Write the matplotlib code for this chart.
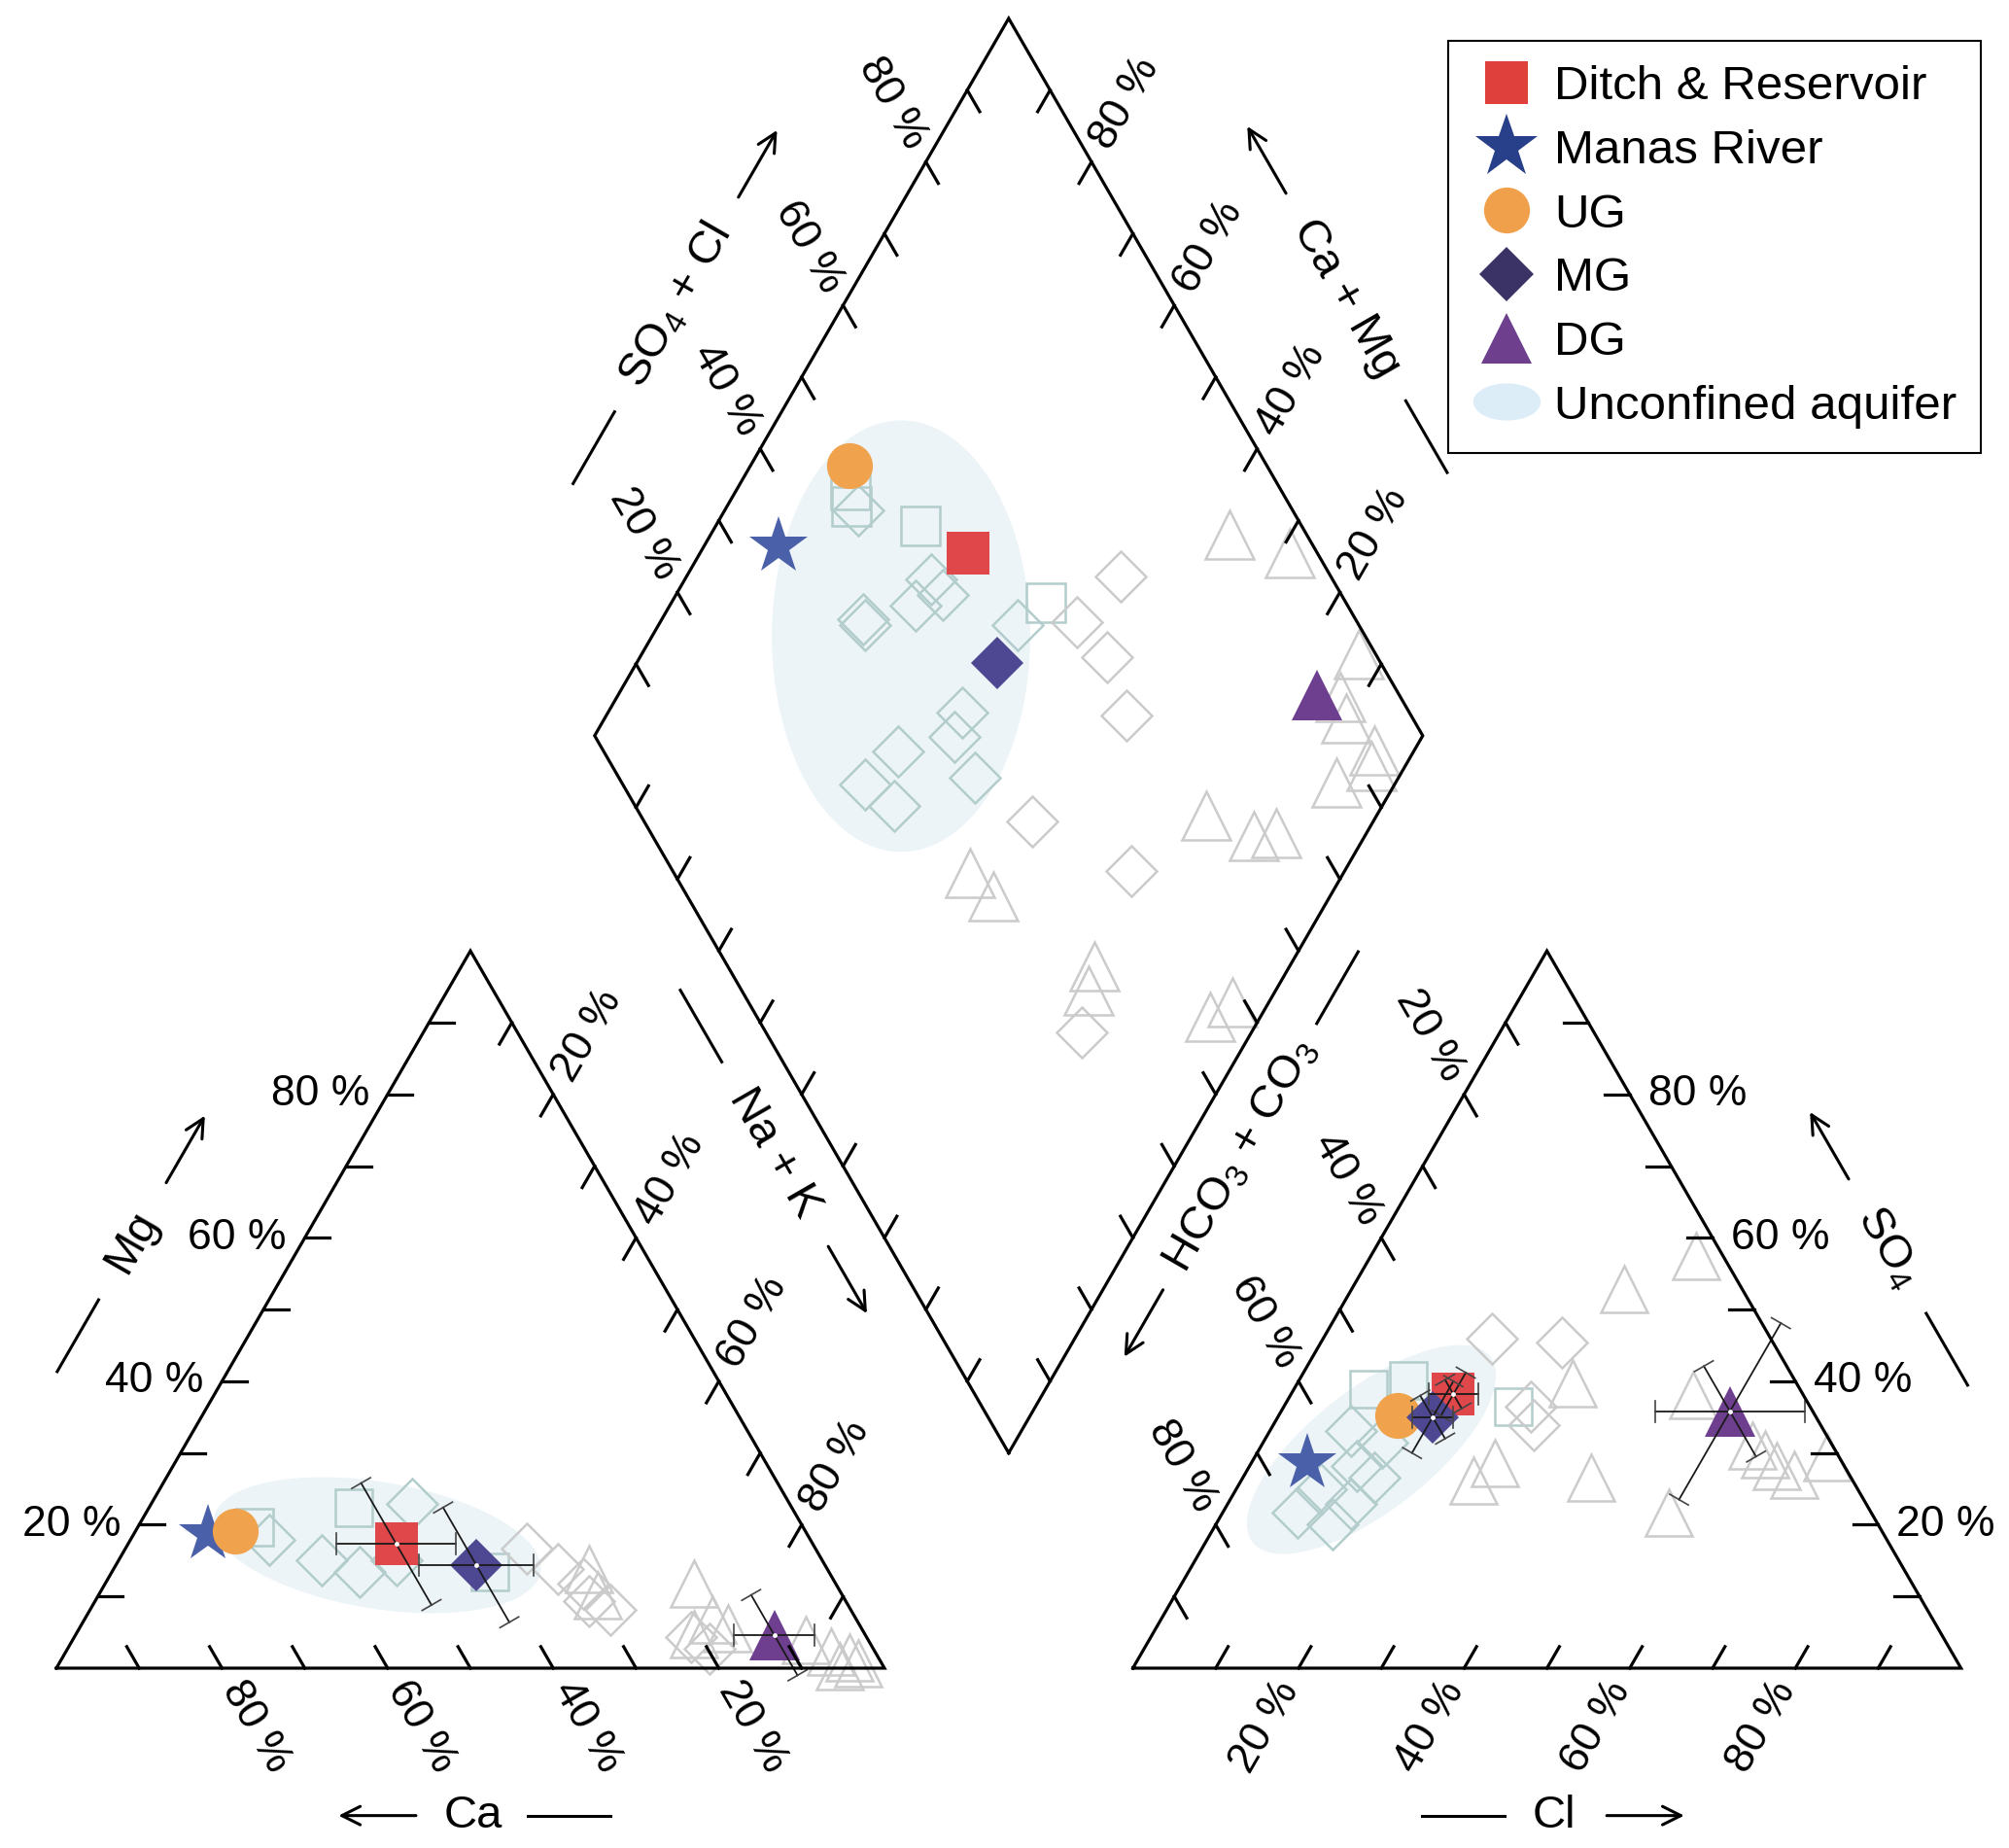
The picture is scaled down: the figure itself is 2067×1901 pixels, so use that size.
import numpy as np
import matplotlib.pyplot as plt
from matplotlib.lines import Line2D
from matplotlib.patches import Ellipse
from matplotlib.path import Path
from matplotlib.transforms import Affine2D

plt.rcParams['font.family'] = 'Liberation Sans'
plt.rcParams['mathtext.fontset'] = 'custom'
plt.rcParams['mathtext.rm'] = 'Liberation Sans'
plt.rcParams['mathtext.it'] = 'Liberation Sans:italic'

# ============================================================
# DATA (meq %)
# ============================================================
groups = ['Ditch & Reservoir', 'Manas River', 'UG', 'MG', 'DG']
mean_ca = [50.3, 72.3, 68.9, 42.1, 11.0]
mean_mg = [17.3, 18.7, 19.1, 14.4, 4.6]
mean_cl = [19.6, 6.8, 14.4, 18.7, 54.2]
mean_so4 = [38.2, 28.6, 35.2, 35.0, 35.8]

# error bar half widths (%)
sd_ca = [7.2, 0, 0, 6.9, 4.9]
sd_mg = [8.5, 0, 0, 8.0, 5.6]
sd_cl = [3.0, 0, 0, 2.5, 9.0]
sd_so4 = [3.0, 0, 0, 5.0, 12.3]
sd_clso4 = [2.0, 0, 0, 3.0, 6.3]

# single samples - cation triangle (Ca, Mg)
cat_sq_ca = [66.3, 52.9, 41.0]
cat_sq_mg = [19.6, 22.4, 13.4]
cat_dm_t_ca = [65.3, 45.6, 60.4, 56.7, 51.4]
cat_dm_t_mg = [17.9, 22.9, 15.0, 13.4, 15.0]
cat_dm_g_ca = [34.9, 32.5, 30.5, 29.1, 31.0, 21.2, 19.8]
cat_dm_g_mg = [16.7, 13.8, 11.8, 8.1, 9.3, 4.3, 2.7]
cat_tr_ca = [28.8, 29.5, 17.1, 17.4, 20.6, 16.1, 7.6, 5.3, 3.5, 2.8, 5.2]
cat_tr_mg = [13.8, 10.2, 11.8, 6.8, 4.7, 5.6, 3.9, 2.3, 1.5, 0.7, 0.3]

# single samples - anion triangle (Cl, SO4)
an_sq_cl = [13.2, 9.0, 27.7]
an_sq_so4 = [40.1, 38.9, 36.4]
an_dm_t_cl = [9.8, 14.3, 12.9, 15.9, 10.2, 14.9, 9.0, 14.1]
an_dm_t_so4 = [33.1, 31.5, 28.2, 26.6, 24.9, 22.9, 21.7, 20.0]
an_dm_g_cl = [20.4, 29.1, 29.8, 31.5]
an_dm_g_so4 = [45.9, 45.4, 36.4, 33.9]
an_tr_cl = [33.2, 32.9, 39.3, 29.4, 28.0, 42.0, 53.9, 48.6, 61.4, 63.6, 66.4, 69.2, 59.3]
an_tr_so4 = [39.7, 52.8, 57.4, 28.6, 26.2, 26.6, 21.7, 38.1, 29.8, 28.2, 27.0, 29.4, 31.0]

# single samples - diamond (Ca+Mg, SO4+Cl)
dia_sq_camg = [86.2, 85.0, 75.3, 54.8]
dia_sq_scl = [48.0, 47.0, 53.9, 63.8]
dia_dm_t_camg = [83.9, 70.3, 67.8, 70.4, 75.7, 75.0, 56.6, 57.2, 56.5, 62.2, 63.9, 58.9, 51.2]
dia_dm_t_scl = [47.5, 51.5, 51.8, 47.8, 40.5, 40.4, 58.8, 46.0, 43.3, 35.6, 29.3, 31.3, 43.0]
dia_dm_g_camg = [49.7, 47.6, 43.6, 37.2, 41.2, 25.8, 20.5]
dia_dm_g_scl = [66.1, 74.6, 67.4, 65.6, 46.8, 55.4, 38.1]
dia_tr_camg = [37.3, 28.8, 13.4, 12.7, 10.5, 4.9, 4.1, 7.1, 20.5, 13.4, 10.9,
               45.1, 40.7, 23.6, 22.6, 6.1, 4.4]
dia_tr_scl = [90.7, 96.6, 98.0, 92.7, 91.9, 93.1, 91.7, 86.3, 68.3, 72.6, 75.5,
              35.7, 36.9, 44.2, 41.8, 54.7, 58.4]

# ============================================================
# PIPER GEOMETRY
# ============================================================
G = 0.3
H = np.sqrt(3) / 2


def cat_xy(ca, mg):
    ca = np.asarray(ca, float) / 100
    mg = np.asarray(mg, float) / 100
    return 1 - ca - 0.5 * mg, H * mg


def an_xy(cl, so4):
    cl = np.asarray(cl, float) / 100
    so4 = np.asarray(so4, float) / 100
    return 1 + G + cl + 0.5 * so4, H * so4


def dia_xy(camg, scl):
    a = np.asarray(camg, float) / 100
    b = np.asarray(scl, float) / 100
    return 1 + G / 2 - 0.5 * a + 0.5 * b, G * H + H * (a + b)


fig = plt.figure(figsize=(20.67, 19.01), dpi=100)
ax = fig.add_axes([0, 0, 1, 1])
S = 852.0
ax.set_xlim(-58 / S, (2067 - 58) / S)
ax.set_ylim(-(1901 - 1716) / S, 1716 / S)
ax.axis('off')

LW = 2.3
TL = 0.03
LG = 0.022
FS_TICK = 32
FS_TITLE = 34

# frames
x, y = cat_xy([100, 0, 0, 100], [0, 0, 100, 0])
ax.plot(x, y, color='black', lw=LW, solid_joinstyle='miter', zorder=6)
x, y = an_xy([0, 100, 0, 0], [0, 0, 100, 0])
ax.plot(x, y, color='black', lw=LW, solid_joinstyle='miter', zorder=6)
x, y = dia_xy([0, 100, 100, 0, 0], [0, 0, 100, 100, 0])
ax.plot(x, y, color='black', lw=LW, solid_joinstyle='miter', zorder=6)


def ticks(points, direction, labels=None, rot=0, ha='left', out=None):
    d = np.array(direction)
    for k, (px, py) in enumerate(points, start=1):
        ax.plot([px, px + TL * d[0]], [py, py + TL * d[1]], color='black', lw=LW, zorder=6)
        if labels is not None and k in (2, 4, 6, 8):
            ax.text(px + LG * out[0], py + LG * out[1], f'{k * 10} %', fontsize=FS_TICK,
                    rotation=rot, ha=ha, va='center', rotation_mode='anchor')


ks = np.arange(1, 10) * 10
# cation triangle
ticks(zip(*cat_xy(100 - ks, ks)), (1, 0), True, 0, 'right', (-1, 0))
ticks(zip(*cat_xy(ks, 0 * ks)), (-0.5, H), True, -60, 'left', (0.5, -H))
ticks(zip(*cat_xy(0 * ks, 100 - ks)), (-0.5, -H), True, 60, 'left', (0.5, H))
# anion triangle
ticks(zip(*an_xy(0 * ks, 100 - ks)), (0.5, -H), True, -60, 'right', (-0.5, H))
ticks(zip(*an_xy(ks, 0 * ks)), (0.5, H), True, 60, 'right', (-0.5, -H))
ticks(zip(*an_xy(100 - ks, ks)), (-1, 0), True, 0, 'left', (1, 0))
# diamond
ticks(zip(*dia_xy(100 + 0 * ks, ks)), (0.5, -H), True, -60, 'right', (-0.5, H))
ticks(zip(*dia_xy(ks, 100 + 0 * ks)), (-0.5, -H), True, 60, 'left', (0.5, H))
ticks(zip(*dia_xy(ks, 0 * ks)), (0.5, H))
ticks(zip(*dia_xy(0 * ks, ks)), (-0.5, H))


def axis_title(text, cx, cy, rot, gap, arrow_after, seg=0.1):
    u = np.array([np.cos(np.radians(rot)), np.sin(np.radians(rot))])
    c = np.array([cx, cy])
    ax.text(cx, cy, text, fontsize=FS_TITLE, rotation=rot, ha='center', va='center',
            rotation_mode='anchor')
    a0, a1 = c + u * gap, c + u * (gap + seg)
    b0, b1 = c - u * gap, c - u * (gap + seg)
    if arrow_after:
        ax.annotate('', xy=a1, xytext=a0,
                    arrowprops=dict(arrowstyle='->', lw=2.2, mutation_scale=34, color='black'))
        ax.plot([b0[0], b1[0]], [b0[1], b1[1]], color='black', lw=2.2)
    else:
        ax.annotate('', xy=b1, xytext=b0,
                    arrowprops=dict(arrowstyle='->', lw=2.2, mutation_scale=34, color='black'))
        ax.plot([a0[0], a1[0]], [a0[1], a1[1]], color='black', lw=2.2)


axis_title('Mg', 0.091, 0.514, 60, 0.08, True)
axis_title('Ca', 0.5035, -0.178, 0, 0.066, False)
axis_title('Na + K', 0.867, 0.622, -60, 0.127, True)
axis_title(r'HCO$_3$ + CO$_3$', 1.430, 0.619, 60, 0.184, False)
axis_title(r'SO$_4$ + Cl', 0.748, 1.645, 60, 0.148, True)
axis_title('Ca + Mg', 1.558, 1.654, -60, 0.143, False)
axis_title(r'SO$_4$', 2.212, 0.508, -60, 0.092, False)
axis_title('Cl', 1.809, -0.178, 0, 0.06, True)

# unconfined aquifer ellipses
ELL = '#ecf4f7'
ax.add_patch(Ellipse((0.3873, 0.1485), 0.400, 0.153, angle=-9.3, color=ELL, lw=0, zorder=1))
ax.add_patch(Ellipse((1.588, 0.264), 0.364, 0.147, angle=38, color=ELL, lw=0, zorder=1))
ax.add_patch(Ellipse((1.020, 1.246), 0.312, 0.521, angle=0, color=ELL, lw=0, zorder=1))

# hollow single samples
TEAL = '#b2cdcc'
GREY = '#cbcbcb'
hollow = dict(ls='none', mfc='none', mew=1.8, zorder=2)
for fn, sets in [
    (cat_xy, [(cat_sq_ca, cat_sq_mg, 's', TEAL, 28), (cat_dm_t_ca, cat_dm_t_mg, 'D', TEAL, 26),
              (cat_dm_g_ca, cat_dm_g_mg, 'D', GREY, 26), (cat_tr_ca, cat_tr_mg, '^', GREY, 35)]),
    (an_xy, [(an_sq_cl, an_sq_so4, 's', TEAL, 28), (an_dm_t_cl, an_dm_t_so4, 'D', TEAL, 26),
             (an_dm_g_cl, an_dm_g_so4, 'D', GREY, 26), (an_tr_cl, an_tr_so4, '^', GREY, 35)]),
    (dia_xy, [(dia_sq_camg, dia_sq_scl, 's', TEAL, 29), (dia_dm_t_camg, dia_dm_t_scl, 'D', TEAL, 26),
              (dia_dm_g_camg, dia_dm_g_scl, 'D', GREY, 26), (dia_tr_camg, dia_tr_scl, '^', GREY, 36)]),
]:
    for a, b, m, c, ms in sets:
        x, y = fn(a, b)
        ax.plot(x, y, marker=m, mec=c, ms=ms, **hollow)

# group means
markers = ['s', '*', 'o', 'D', '^']
plot_colors = ['#e0474a', '#4a60a8', '#f0a24c', '#4e4791', '#6f3f8f']
leg_colors = ['#e0403c', '#283f8a', '#f0a04b', '#3b3266', '#6e3f8c']
sizes = [31, 45, 34, 27, 37]
camg = np.array(mean_ca) + np.array(mean_mg)
scl = np.array(mean_cl) + np.array(mean_so4)
for i in range(len(groups)):
    for x, y in [cat_xy(mean_ca[i], mean_mg[i]), an_xy(mean_cl[i], mean_so4[i]),
                 dia_xy(camg[i], scl[i])]:
        ax.plot(x, y, marker=markers[i], color=plot_colors[i], ms=sizes[i], ls='none', mew=0, zorder=3)


def err_bar(p0, p1, cap=0.013):
    p0, p1 = np.array(p0, float), np.array(p1, float)
    d = p1 - p0
    n = np.array([-d[1], d[0]]) / np.hypot(*d)
    ax.plot([p0[0], p1[0]], [p0[1], p1[1]], color='#1a1a1a', lw=1.3, zorder=4)
    for p in (p0, p1):
        ax.plot([p[0] - cap * n[0], p[0] + cap * n[0]], [p[1] - cap * n[1], p[1] + cap * n[1]],
                color='#444444', lw=1.2, zorder=4)


for i in range(len(groups)):
    ca, mg, cl, so = mean_ca[i], mean_mg[i], mean_cl[i], mean_so4[i]
    if sd_ca[i]:
        err_bar(cat_xy(ca - sd_ca[i], mg), cat_xy(ca + sd_ca[i], mg))
    if sd_mg[i]:
        err_bar(cat_xy(ca, mg - sd_mg[i]), cat_xy(ca, mg + sd_mg[i]))
    if sd_cl[i]:
        err_bar(an_xy(cl - sd_cl[i], so), an_xy(cl + sd_cl[i], so))
    if sd_so4[i]:
        err_bar(an_xy(cl, so - sd_so4[i]), an_xy(cl, so + sd_so4[i]))
    if sd_clso4[i]:
        err_bar(an_xy(cl + sd_clso4[i], so - sd_clso4[i]), an_xy(cl - sd_clso4[i], so + sd_clso4[i]))
    if sd_ca[i] or sd_cl[i]:
        for x, y in [cat_xy(ca, mg), an_xy(cl, so)]:
            ax.plot(x, y, 'o', color='white', ms=3.5, mew=0, zorder=5)

# legend
ell_path = Path.unit_circle().transformed(Affine2D().scale(1, 0.55))
handles = [Line2D([], [], ls='none', marker=m, color=c, ms=s, mew=0)
           for m, c, s in zip(markers, leg_colors, [32, 49, 34, 29, 38])]
handles.append(Line2D([], [], ls='none', marker=ell_path, color='#dcedf8', ms=50, mew=0))
leg = ax.legend(handles, groups + ['Unconfined aquifer'], loc='upper left',
                bbox_to_anchor=(1490 / 2067, 1 - 42 / 1901), bbox_transform=fig.transFigure,
                fontsize=35.5, frameon=True, fancybox=False, edgecolor='black', framealpha=1,
                borderpad=0.51, handlelength=1.43, handletextpad=0.27, labelspacing=0.42,
                borderaxespad=0)
leg.get_frame().set_linewidth(1.5)

fig.savefig('out.png', dpi=100)
